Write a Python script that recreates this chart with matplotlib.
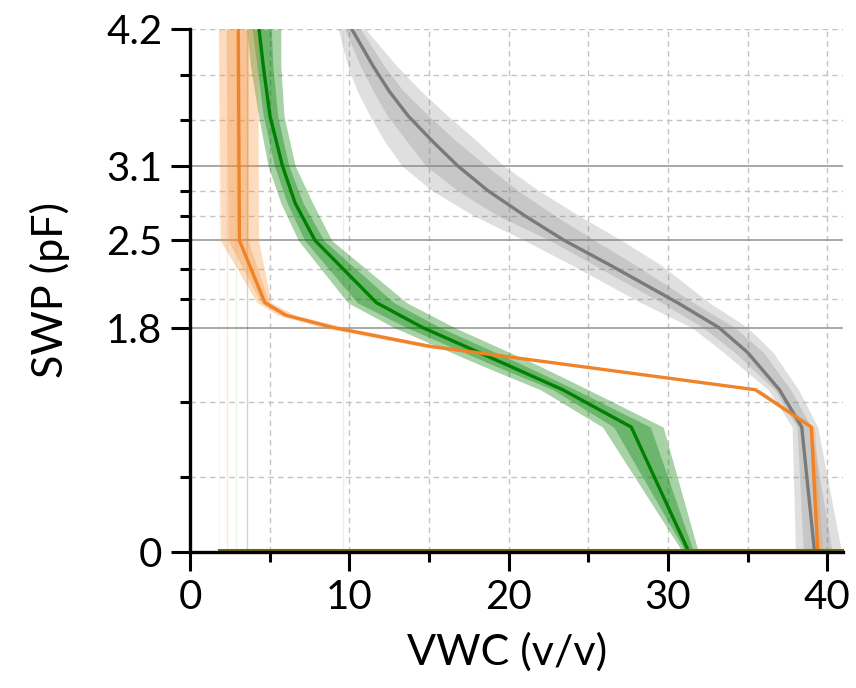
import matplotlib
matplotlib.use("Agg")
import matplotlib.pyplot as plt
import numpy as np
from matplotlib.ticker import FixedLocator

plt.rcParams['font.family'] = ['Lato', 'DejaVu Sans']

# ---- data (VWC in %, SWP in pF) ----
gray_y = [4.2, 3.9, 3.7, 3.5, 3.3, 3.1, 2.9, 2.7, 2.5, 2.3, 2.0, 1.8, 1.6, 1.3, 1.0, 0.0]
gray_mid = [10.15, 11.5, 12.5, 13.7, 15.2, 16.8, 18.7, 21.0, 23.5, 26.4, 30.6, 33.2, 35.0, 37.0, 38.4, 39.2]
gray_lo_out = [9.3, 9.9, 10.5, 11.3, 12.2, 13.3, 15.2, 17.8, 21.0, 24.0, 28.3, 31.5, 33.5, 36.3, 37.8, 38.0]
gray_lo_in = [9.7, 10.7, 11.5, 12.4, 13.6, 14.8, 16.8, 19.3, 22.6, 25.4, 29.6, 32.2, 34.2, 36.7, 38.1, 38.5]
gray_hi_in = [10.7, 12.2, 13.4, 15.0, 16.7, 18.6, 20.6, 22.9, 25.4, 28.0, 31.6, 34.2, 36.0, 37.7, 39.0, 40.3]
gray_hi_out = [11.0, 13.0, 14.5, 16.2, 18.0, 19.7, 21.9, 24.4, 27.1, 29.6, 32.6, 35.0, 36.6, 38.2, 39.4, 40.9]

green_y = [4.2, 3.9, 3.5, 3.1, 2.8, 2.5, 2.0, 1.8, 1.5, 1.3, 1.0, 0.0]
green_mid = [4.33, 4.6, 5.02, 5.8, 6.6, 7.85, 11.7, 14.6, 19.9, 23.4, 27.7, 31.3]
green_lo_out = [3.56, 3.8, 4.3, 4.9, 5.7, 6.8, 9.9, 12.8, 18.2, 22.0, 25.9, 30.9]
green_lo_in = [3.9, 4.2, 4.6, 5.3, 6.1, 7.2, 10.5, 13.6, 19.0, 22.8, 26.6, 31.1]
green_hi_in = [5.1, 5.2, 5.5, 6.2, 7.1, 8.4, 12.8, 15.7, 20.9, 24.2, 28.9, 31.6]
green_hi_out = [5.7, 5.7, 5.9, 6.6, 7.7, 8.9, 13.6, 16.6, 21.8, 25.0, 29.7, 31.9]

orange_y = [4.2, 2.5, 2.0, 1.9, 1.8, 1.65, 1.3, 1.0, 0.0]
orange_mid = [3.03, 3.1, 4.7, 6.0, 9.0, 15.0, 35.5, 39.0, 39.4]
orange_lo_out = [1.8, 1.9, 4.2, 5.5, 8.3, 14.4, 35.3, 38.9, 39.25]
orange_lo_in = [2.3, 2.4, 4.45, 5.75, 8.7, 14.7, 35.4, 38.95, 39.3]
orange_hi_in = [3.65, 3.65, 4.95, 6.3, 9.4, 15.3, 35.6, 39.1, 39.5]
orange_hi_out = [4.25, 4.3, 5.1, 6.6, 9.8, 15.7, 35.8, 39.2, 39.7]

y_major = [0, 1.8, 2.5, 3.1, 4.2]
y_labels = ['0', '1.8', '2.5', '3.1', '4.2']
x_major = [0, 10, 20, 30, 40]
x_minor = [5, 15, 25, 35]

fig = plt.figure(figsize=(8.56, 6.88), dpi=100)
ax = fig.add_axes([0.222, 0.1984, 0.763, 0.7595])

# minor y ticks: each major interval divided in thirds
y_minor = []
for a, b in zip(y_major[:-1], y_major[1:]):
    y_minor += [a + (b - a) / 3, a + 2 * (b - a) / 3]

# grid
for y in y_minor + [4.2]:
    ax.axhline(y, color='#c4c4c4', lw=1.0, ls=(0, (4, 3)), zorder=0)
for x in x_minor + x_major[1:]:
    ax.axvline(x, color='#c4c4c4', lw=1.0, ls=(0, (4, 3)), zorder=0)
for y in [1.8, 2.5, 3.1]:
    ax.axhline(y, color='#9a9a9a', lw=1.2, zorder=0.5)

def series(yv, mid, lo_o, lo_i, hi_i, hi_o, color, lcolor, alpha):
    ax.fill_betweenx(yv, lo_o, hi_o, color=color, alpha=alpha, lw=0, zorder=1)
    ax.fill_betweenx(yv, lo_i, hi_i, color=color, alpha=alpha, lw=0, zorder=1)
    ax.plot(mid, yv, color=lcolor, lw=2.4, zorder=3)

series(gray_y, gray_mid, gray_lo_out, gray_lo_in, gray_hi_in, gray_hi_out,
       'gray', '#7a7a7a', 0.25)
series(green_y, green_mid, green_lo_out, green_lo_in, green_hi_in, green_hi_out,
       'green', 'green', 0.35)
series(orange_y, orange_mid, orange_lo_out, orange_lo_in, orange_hi_in, orange_hi_out,
       '#f7913a', '#f08328', 0.32)

# faint polygon-edge artifacts
ax.vlines([orange_lo_out[0]], 0, 4.2, color='#f7913a', alpha=0.08, lw=1, zorder=0.8)
ax.vlines([orange_lo_in[0]], 0, 4.2, color='#f7913a', alpha=0.2, lw=1, zorder=0.8)
ax.vlines([2.9], 0, 4.2, color='green', alpha=0.08, lw=1, zorder=0.8)
ax.vlines([green_lo_out[0]], 0, 4.2, color='green', alpha=0.25, lw=1, zorder=0.8)
ax.vlines([9.6], 0, 4.2, color='gray', alpha=0.12, lw=1, zorder=0.8)
ax.plot([orange_lo_out[0], 41], [0.01, 0.01], color='#6e6a10', lw=1.5, zorder=4, clip_on=False)

ax.set_xlim(0, 41)
ax.set_ylim(0, 4.2)
ax.set_xticks(x_major)
ax.set_xticklabels([str(v) for v in x_major])
ax.xaxis.set_minor_locator(FixedLocator(x_minor))
ax.set_yticks(y_major)
ax.set_yticklabels(y_labels)
ax.yaxis.set_minor_locator(FixedLocator(y_minor))

for s in ['top', 'right']:
    ax.spines[s].set_visible(False)
for s in ['left', 'bottom']:
    ax.spines[s].set_linewidth(2.4)
    ax.spines[s].set_color('black')
    ax.spines[s].set_zorder(5)

ax.tick_params(axis='both', which='major', direction='out', length=14, width=2.2,
               labelsize=29, pad=6)
ax.tick_params(axis='both', which='minor', direction='out', length=7, width=2.2)

ax.set_xlabel('VWC (v/v)', fontsize=31, labelpad=12)
ax.set_ylabel('SWP (pF)', fontsize=31, labelpad=26)
ax.xaxis.set_label_coords(0.485, -0.155)

fig.savefig('out.png', dpi=100)
